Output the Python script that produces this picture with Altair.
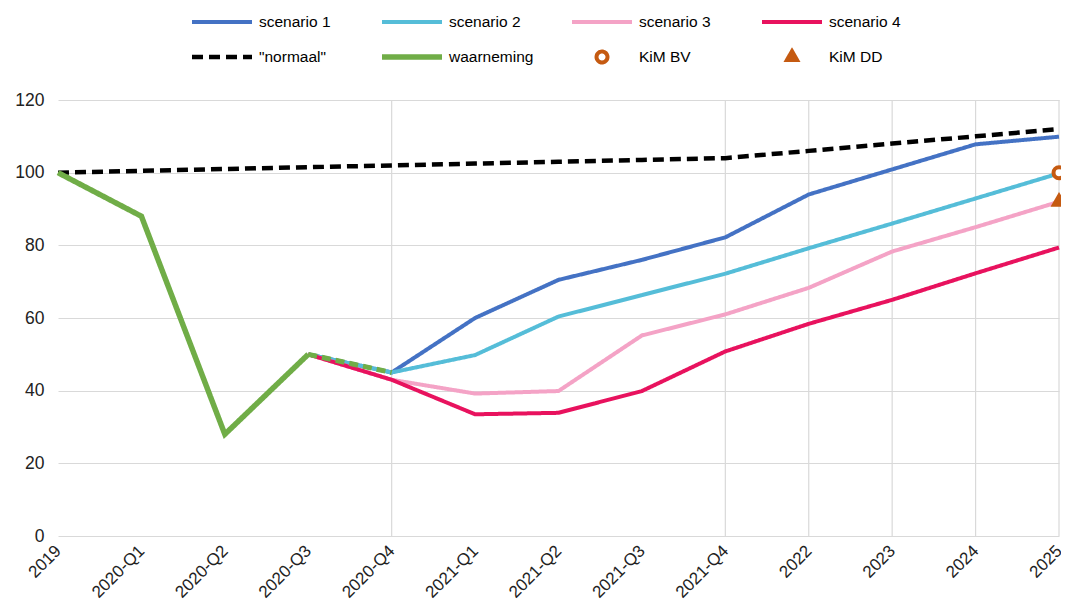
import altair as alt
import pandas as pd

categories = ["2019", "2020-Q1", "2020-Q2", "2020-Q3", "2020-Q4", "2021-Q1", "2021-Q2",
              "2021-Q3", "2021-Q4", "2022", "2023", "2024", "2025"]
normaal = [100, 100.5, 101, 101.5, 102, 102.5, 103, 103.5, 104, 106, 108, 110, 112]

obs_cats = ["2019", "2020-Q1", "2020-Q2", "2020-Q3"]
waarneming = [100, 88, 28, 50]
obs_dash_cats = ["2020-Q3", "2020-Q4"]
waarneming_dash = [50, 45]

scen_cats = ["2020-Q3", "2020-Q4", "2021-Q1", "2021-Q2", "2021-Q3", "2021-Q4",
             "2022", "2023", "2024", "2025"]
scenario_1 = [50, 45, 60, 70.5, 76, 82.2, 94, 100.9, 107.8, 109.9]
scenario_2 = [50, 45, 49.8, 60.4, 66.3, 72.2, 79.2, 86, 92.9, 99.8]
scenario_3 = [50, 43, 39.2, 39.9, 55.2, 61, 68.3, 78.3, 85, 92]
scenario_4 = [50, 43, 33.5, 33.9, 39.9, 50.8, 58.4, 65, 72.3, 79.4]

kim_names = ["KiM BV", "KiM DD"]
kim_cats = ["2025", "2025"]
kim_values = [100, 92]

grid_cats = ["2020-Q4", "2021-Q4", "2022", "2023", "2024", "2025"]

names = ["scenario 1", "scenario 2", "scenario 3", "scenario 4",
         '"normaal"', "waarneming", "KiM BV", "KiM DD"]
colors = ["#4472C4", "#55BDD8", "#F4A3C6", "#E8125E", "#000000", "#70AD47", "#C55A11", "#C55A11"]
dashes = [[1, 0], [1, 0], [1, 0], [1, 0], [11, 6], [1, 0], [1, 0], [1, 0]]
shapes = ["stroke", "stroke", "stroke", "stroke", "stroke", "stroke", "circle", "triangle"]
fills = ["transparent"] * 6 + ["white", "#C55A11"]
sizes = [3600] * 6 + [120, 140]
widths = [4, 4, 4, 4, 4.5, 5.5, 4, 3]

rows = []
for s, vals in zip(names[:4], [scenario_1, scenario_2, scenario_3, scenario_4]):
    for c, v in zip(scen_cats, vals):
        rows.append({"cat": c, "value": v, "series": s})
for c, v in zip(categories, normaal):
    rows.append({"cat": c, "value": v, "series": names[4]})
lines_df = pd.DataFrame(rows)
obs_df = pd.DataFrame({"cat": obs_cats, "value": waarneming, "series": ["waarneming"] * len(obs_cats)})
obs_dash_df = pd.DataFrame({"cat": obs_dash_cats, "value": waarneming_dash})
kim_df = pd.DataFrame({"cat": kim_cats, "value": kim_values, "series": kim_names})
grid_df = pd.DataFrame({"cat": grid_cats})

legend = alt.Legend(
    title=None, orient="none", legendX=131, legendY=-88, columns=4, direction="horizontal",
    gridAlign="all", columnPadding=35, rowPadding=15, clipHeight=20, labelFontSize=15.5,
    labelFont="Liberation Sans", labelColor="#000000", labelOffset=4,
    symbolStrokeWidth=4, padding=0,
)

xenc = alt.X("cat:N", sort=categories,
             scale=alt.Scale(domain=categories, type="point", padding=0),
             axis=alt.Axis(title=None, labelAngle=-45, labelFontSize=17,
                           labelFont="Liberation Sans", labelColor="#222222",
                           domain=False, ticks=False, grid=False, labelPadding=12))
yenc = alt.Y("value:Q", scale=alt.Scale(domain=[0, 120], nice=False),
             axis=alt.Axis(title=None, values=[0, 20, 40, 60, 80, 100, 120],
                           labelFontSize=17.5, labelFont="Liberation Sans",
                           labelColor="#222222", domain=False, ticks=False,
                           grid=True, gridColor="#d9d9d9", gridWidth=1.2,
                           labelPadding=14))

col = alt.Color("series:N", scale=alt.Scale(domain=names, range=colors), legend=legend)
dash = alt.StrokeDash("series:N", scale=alt.Scale(domain=names, range=dashes), legend=legend)
sw = alt.StrokeWidth("series:N", scale=alt.Scale(type="ordinal", domain=names, range=widths), legend=None)

grid = alt.Chart(grid_df).mark_rule(color="#d9d9d9", strokeWidth=1.2).encode(x=alt.X("cat:N", sort=categories))

lines = alt.Chart(lines_df).mark_line(strokeCap="butt").encode(
    x=xenc, y=yenc, color=col, strokeDash=dash, strokeWidth=sw)

obs = alt.Chart(obs_df).mark_line().encode(
    x=alt.X("cat:N", sort=categories), y="value:Q", color=col, strokeDash=dash, strokeWidth=sw)

obs_dash = alt.Chart(obs_dash_df).mark_line(color="#70AD47", strokeWidth=5, strokeDash=[9, 5]).encode(
    x=alt.X("cat:N", sort=categories), y="value:Q")

pts = alt.Chart(kim_df).mark_point(filled=False, opacity=1).encode(
    x=alt.X("cat:N", sort=categories), y="value:Q", color=col,
    shape=alt.Shape("series:N", scale=alt.Scale(domain=names, range=shapes), legend=legend),
    fill=alt.Fill("series:N", scale=alt.Scale(domain=names, range=fills), legend=legend),
    size=alt.Size("series:N", scale=alt.Scale(type="ordinal", domain=names, range=sizes), legend=legend),
    strokeWidth=sw,
)

chart = alt.layer(grid, lines, obs, obs_dash, pts).properties(
    width=1001, height=436,
    autosize=alt.AutoSizeParams(type="none"),
    padding={"left": 50, "top": 92, "right": 2, "bottom": 66},
).configure_view(stroke=None)

chart.save("out.html", embed_options={"renderer": "svg", "actions": False})
